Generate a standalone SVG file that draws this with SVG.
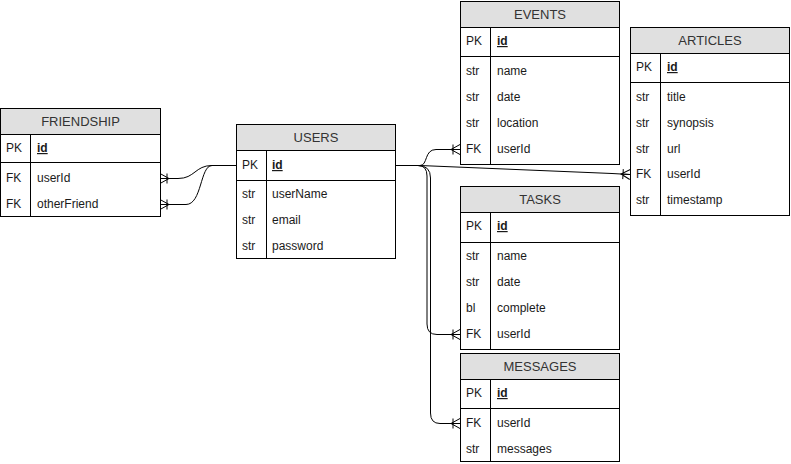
<svg xmlns="http://www.w3.org/2000/svg" width="791" height="464" viewBox="0 0 791 464">
<style>
.box{fill:#fff;stroke:#000;stroke-width:1}
.hdr{fill:#e0e0e0;stroke:#000;stroke-width:1}
.ln{stroke:#000;stroke-width:1;fill:none}
.t{font-family:"Liberation Sans",Arial,sans-serif;font-size:12px;fill:#1a1a1a}
.h{font-family:"Liberation Sans",Arial,sans-serif;font-size:13px;fill:#333;text-anchor:middle}
.pk{font-weight:bold;text-decoration:underline}
.c{stroke:#000;stroke-width:1;fill:none;marker-end:url(#crow)}
</style>
<defs>
<marker id="crow" markerUnits="userSpaceOnUse" viewBox="-12 -7 14 14" refX="0" refY="0" markerWidth="14" markerHeight="14" orient="auto">
<path d="M0,-5 L-9,0 L0,5 M-9,0 L0,0 M-7,-5 L-7,5" fill="none" stroke="#000" stroke-width="1"/>
</marker>
</defs>
<rect width="791" height="464" fill="#fff"/>
<g id="connectors">
<path class="c" d="M236,165.5 L212,165.5 C195,165.5 195,178.5 178,178.5 L160,178.5"/>
<path class="c" d="M236,165.5 L212,165.5 C200,165.5 202,204.5 186,204.5 L160,204.5"/>
<path class="c" d="M395,165.5 L420,165.5 C428,165.5 424,149.5 436,149.5 L460,149.5"/>
<path class="c" d="M395,165.5 L420,165.5 L612,173.5 L630,174.5"/>
<path class="c" d="M395,165.5 L418,165.5 Q427,165.5 427,176 L427,324 Q427,334.5 437,334.5 L460,334.5"/>
<path class="c" d="M395,165.5 L418,165.5 Q430.5,165.5 430.5,178 L430.5,413 Q430.5,423.5 440,423.5 L460,423.5"/>
</g>
<g id="friendship">
<rect class="box" x="0.5" y="108.5" width="160" height="108"/>
<rect class="hdr" x="0.5" y="108.5" width="160" height="26"/>
<text class="h" x="80.5" y="126">FRIENDSHIP</text>
<line class="ln" x1="0.5" y1="162.5" x2="160.5" y2="162.5"/>
<line class="ln" x1="30.5" y1="134.5" x2="30.5" y2="216.5"/>
<text class="t" x="6" y="152">PK</text><text class="t pk" x="37" y="152">id</text>
<text class="t" x="6" y="182">FK</text><text class="t" x="37" y="182">userId</text>
<text class="t" x="6" y="208">FK</text><text class="t" x="37" y="208">otherFriend</text>
</g>
<g id="users">
<rect class="box" x="236.5" y="124.5" width="159" height="134"/>
<rect class="hdr" x="236.5" y="124.5" width="159" height="26"/>
<text class="h" x="316" y="142">USERS</text>
<line class="ln" x1="236.5" y1="180.5" x2="395.5" y2="180.5"/>
<line class="ln" x1="266.5" y1="150.5" x2="266.5" y2="258.5"/>
<text class="t" x="242" y="169">PK</text><text class="t pk" x="272" y="169">id</text>
<text class="t" x="242" y="198">str</text><text class="t" x="272" y="198">userName</text>
<text class="t" x="242" y="224">str</text><text class="t" x="272" y="224">email</text>
<text class="t" x="242" y="250">str</text><text class="t" x="272" y="250">password</text>
</g>
<g id="events">
<rect class="box" x="460.5" y="1.5" width="159" height="163"/>
<rect class="hdr" x="460.5" y="1.5" width="159" height="26"/>
<text class="h" x="540" y="19">EVENTS</text>
<line class="ln" x1="460.5" y1="56.5" x2="619.5" y2="56.5"/>
<line class="ln" x1="490.5" y1="27.5" x2="490.5" y2="164.5"/>
<text class="t" x="466" y="45">PK</text><text class="t pk" x="497" y="45">id</text>
<text class="t" x="466" y="75">str</text><text class="t" x="497" y="75">name</text>
<text class="t" x="466" y="101">str</text><text class="t" x="497" y="101">date</text>
<text class="t" x="466" y="127">str</text><text class="t" x="497" y="127">location</text>
<text class="t" x="466" y="153">FK</text><text class="t" x="497" y="153">userId</text>
</g>
<g id="articles">
<rect class="box" x="630.5" y="27.5" width="159" height="188"/>
<rect class="hdr" x="630.5" y="27.5" width="159" height="26"/>
<text class="h" x="710" y="45">ARTICLES</text>
<line class="ln" x1="630.5" y1="82.5" x2="789.5" y2="82.5"/>
<line class="ln" x1="660.5" y1="53.5" x2="660.5" y2="215.5"/>
<text class="t" x="636" y="71">PK</text><text class="t pk" x="667" y="71">id</text>
<text class="t" x="636" y="101">str</text><text class="t" x="667" y="101">title</text>
<text class="t" x="636" y="127">str</text><text class="t" x="667" y="127">synopsis</text>
<text class="t" x="636" y="153">str</text><text class="t" x="667" y="153">url</text>
<text class="t" x="636" y="178">FK</text><text class="t" x="667" y="178">userId</text>
<text class="t" x="636" y="204">str</text><text class="t" x="667" y="204">timestamp</text>
</g>
<g id="tasks">
<rect class="box" x="460.5" y="186.5" width="159" height="163"/>
<rect class="hdr" x="460.5" y="186.5" width="159" height="26"/>
<text class="h" x="540" y="204">TASKS</text>
<line class="ln" x1="460.5" y1="242.5" x2="619.5" y2="242.5"/>
<line class="ln" x1="490.5" y1="212.5" x2="490.5" y2="349.5"/>
<text class="t" x="466" y="230">PK</text><text class="t pk" x="497" y="230">id</text>
<text class="t" x="466" y="260">str</text><text class="t" x="497" y="260">name</text>
<text class="t" x="466" y="286">str</text><text class="t" x="497" y="286">date</text>
<text class="t" x="466" y="312">bl</text><text class="t" x="497" y="312">complete</text>
<text class="t" x="466" y="338">FK</text><text class="t" x="497" y="338">userId</text>
</g>
<g id="messages">
<rect class="box" x="460.5" y="353.5" width="159" height="108"/>
<rect class="hdr" x="460.5" y="353.5" width="159" height="26"/>
<text class="h" x="540" y="371">MESSAGES</text>
<line class="ln" x1="460.5" y1="408.5" x2="619.5" y2="408.5"/>
<line class="ln" x1="490.5" y1="379.5" x2="490.5" y2="461.5"/>
<text class="t" x="466" y="397">PK</text><text class="t pk" x="497" y="397">id</text>
<text class="t" x="466" y="427">FK</text><text class="t" x="497" y="427">userId</text>
<text class="t" x="466" y="453">str</text><text class="t" x="497" y="453">messages</text>
</g>
</svg>
